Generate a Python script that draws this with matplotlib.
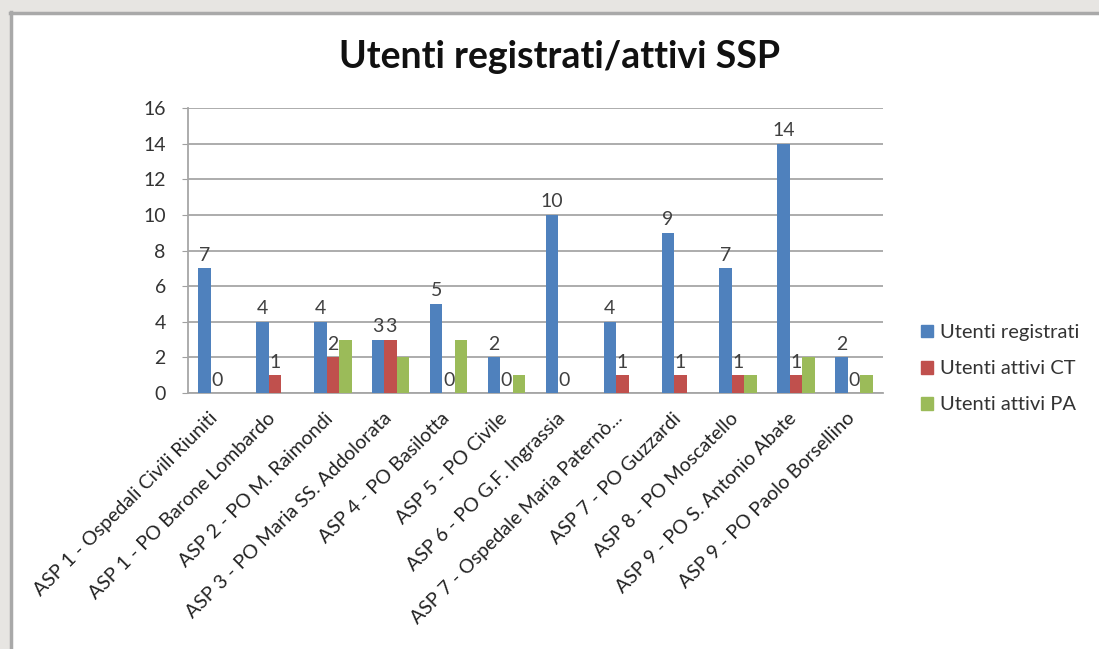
import matplotlib
matplotlib.use("Agg")
import matplotlib.pyplot as plt
import numpy as np
from matplotlib.patches import Rectangle
from matplotlib.lines import Line2D

categories = [
    "ASP 1 - Ospedali Civili Riuniti",
    "ASP 1 - PO Barone Lombardo",
    "ASP 2 - PO M. Raimondi",
    "ASP 3 - PO Maria SS. Addolorata",
    "ASP 4 - PO Basilotta",
    "ASP 5 - PO Civile",
    "ASP 6 - PO G.F. Ingrassia",
    "ASP 7 - Ospedale Maria Paternò...",
    "ASP 7 - PO Guzzardi",
    "ASP 8 - PO Moscatello",
    "ASP 9 - PO S. Antonio Abate",
    "ASP 9 - PO Paolo Borsellino",
]
registrati = [7, 4, 4, 3, 5, 2, 10, 4, 9, 7, 14, 2]
attivi_ct = [0, 1, 2, 3, 0, 0, 0, 1, 1, 1, 1, 0]
attivi_pa = [0, 0, 3, 2, 3, 1, 0, 0, 0, 1, 2, 1]
series_names = ["Utenti registrati", "Utenti attivi CT", "Utenti attivi PA"]
colors = ["#4F81BD", "#C0504D", "#9BBB59"]
yticks = [0, 2, 4, 6, 8, 10, 12, 14, 16]

plt.rcParams['font.family'] = ['Lato', 'DejaVu Sans']

W, H = 1099, 649
fig = plt.figure(figsize=(W / 100, H / 100), dpi=100)
fig.patch.set_facecolor("white")

# textured frame (top and left strips)
bg = "#e7e5e2"
fig.add_artist(Rectangle((0, 1 - 12 / H), 1, 12 / H, transform=fig.transFigure,
                         facecolor=bg, edgecolor="none", zorder=0))
fig.add_artist(Rectangle((0, 0), 10 / W, 1, transform=fig.transFigure,
                         facecolor=bg, edgecolor="none", zorder=0))
fig.add_artist(Line2D([10 / W, 1], [1 - 12.5 / H, 1 - 12.5 / H], transform=fig.transFigure,
                      color="#a9a9a9", lw=2.5, zorder=1))
fig.add_artist(Line2D([10.5 / W, 10.5 / W], [0, 1 - 12 / H], transform=fig.transFigure,
                      color="#a9a9a9", lw=2.5, zorder=1))

left, right = 188 / W, 883 / W
bottom, top = 1 - 393 / H, 1 - 108 / H
ax = fig.add_axes([left, bottom, right - left, top - bottom])

n = len(categories)
x = np.arange(n)
bw = 0.216
data = [registrati, attivi_ct, attivi_pa]
for i, (vals, c, name) in enumerate(zip(data, colors, series_names)):
    pos = x + (i - 1) * bw
    ax.bar(pos, vals, width=bw, color=c, label=name, zorder=3)
    if i < 2:
        for p, v in zip(pos, vals):
            ax.text(p, v + 0.25, str(v), ha="center", va="bottom",
                    fontsize=14, color="#404040", zorder=4)

ax.set_xlim(-0.5, n - 0.5)
ax.set_ylim(0, 16)
ax.set_yticks(yticks)
ax.set_yticklabels([str(t) for t in yticks], fontsize=14, color="#333333")
ax.tick_params(axis="y", length=4, color="#a0a0a0", pad=12)
ax.tick_params(axis="x", length=0)
ax.set_xticks(x)
ax.set_xticklabels([])
for xi, lab in zip(x, categories):
    ax.annotate(lab, xy=(xi, 0), xycoords="data", xytext=(-6, -12), textcoords="offset points",
                rotation=45, ha="right", va="top", rotation_mode="anchor",
                fontsize=14, color="#222222")

ax.grid(axis="y", color="#a6a6a6", lw=1.3, zorder=0)
for s in ["top", "right"]:
    ax.spines[s].set_visible(False)
ax.spines["left"].set_color("#a6a6a6")
ax.spines["bottom"].set_color("#a6a6a6")
ax.spines["left"].set_linewidth(1.3)
ax.spines["bottom"].set_linewidth(1.3)
ax.set_facecolor("white")

fig.text(560 / W, 1 - 57 / H, "Utenti registrati/attivi SSP", ha="center", va="center",
         fontsize=27, fontweight="bold", color="#111111")

handles = [Rectangle((0, 0), 1, 1, color=c) for c in colors]
leg = fig.legend(handles, series_names, loc="upper left",
                 bbox_to_anchor=(903 / W, 1 - 306 / H), frameon=False,
                 fontsize=14.5, handlelength=0.6, handleheight=0.6, handletextpad=0.35,
                 labelspacing=0.95)
for t in leg.get_texts():
    t.set_color("#333333")

fig.savefig("out.png", dpi=100, facecolor="white")
